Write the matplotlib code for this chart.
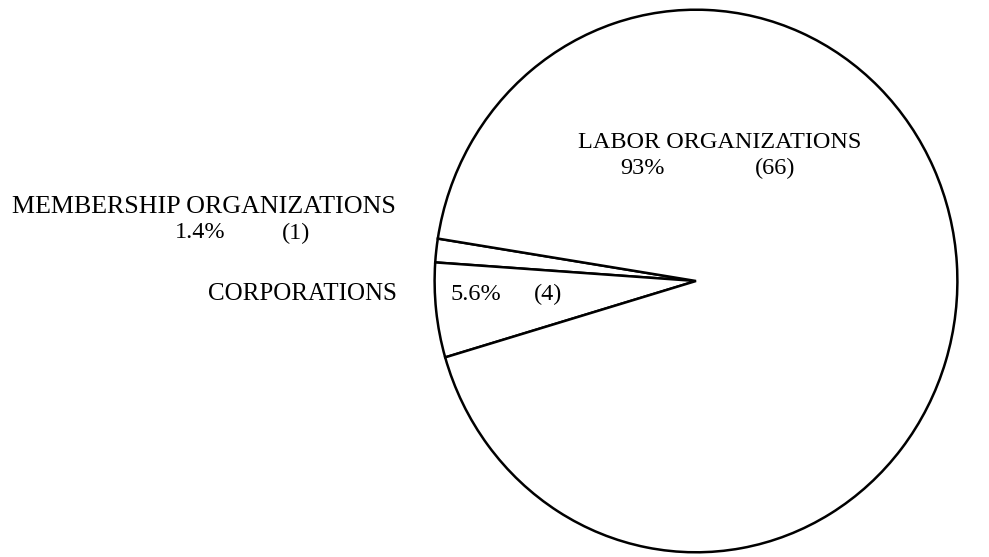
import matplotlib.pyplot as plt

# Data
labels = ["MEMBERSHIP ORGANIZATIONS", "CORPORATIONS", "LABOR ORGANIZATIONS"]
counts = [1, 4, 66]
pcts = ["1.4%", "5.6%", "93%"]

plt.rcParams['font.family'] = ['Liberation Serif', 'DejaVu Serif']

W, H = 989, 557
fig = plt.figure(figsize=(W / 100, H / 100), dpi=100)
fig.patch.set_facecolor("white")

# axes placed over the circle (pixel box 432..960 x 7..555)
ax = fig.add_axes([432 / W, (H - 555) / H, 528 / W, 548 / H])
wedges, _ = ax.pie(counts, startangle=171, counterclock=True,
                   colors=["white"] * 3,
                   wedgeprops=dict(edgecolor="black", linewidth=1.8))
ax.set_aspect("auto")
ax.set_xlim(-1.01, 1.01)
ax.set_ylim(-1.01, 1.01)
ax.axis("off")


def put(x, y, s, ha="left", size=17.5):
    fig.text(x / W, 1 - y / H, s, ha=ha, va="center", fontsize=size)


# labels
put(578, 142, labels[2])
put(620, 168, pcts[2])
put(755, 168, "(%d)" % counts[2])

put(12, 207, labels[0], size=18.7)
put(175, 233, pcts[0])
put(282, 233, "(%d)" % counts[0])

put(397, 294, labels[1], ha="right", size=18)
put(450, 294, pcts[1])
put(534, 294, "(%d)" % counts[1])

fig.savefig("out.png", dpi=100)
